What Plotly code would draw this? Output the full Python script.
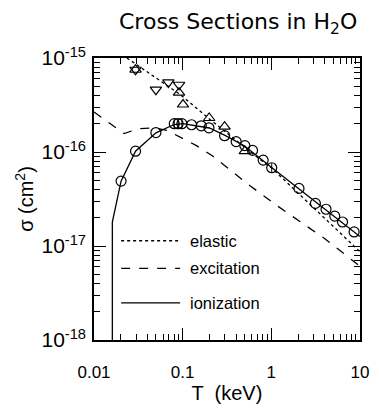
import plotly.graph_objects as go

# ---- data ----
ion_curve_T = [0.0161, 0.0161, 0.0202, 0.0294, 0.05, 0.08, 0.1, 0.15, 0.2, 0.3, 0.5, 1.0, 2.0, 5.0, 10.0]
ion_curve_s = [1e-18, 1.8e-17, 4.9e-17, 1.02e-16, 1.6e-16, 1.96e-16, 2.0e-16, 1.9e-16, 1.8e-16, 1.5e-16,
               1.16e-16, 6.9e-17, 4.1e-17, 2.1e-17, 1.26e-17]

ion_T = [0.0202, 0.0294, 0.0499, 0.0804, 0.0888, 0.098, 0.126, 0.162, 0.198, 0.297, 0.401, 0.503,
         0.614, 0.809, 1.01, 2.05, 3.14, 4.14, 5.19, 6.35, 8.58]
ion_s = [4.9e-17, 1.02e-16, 1.61e-16, 2.0e-16, 2.0e-16, 2.0e-16, 1.95e-16, 1.90e-16, 1.81e-16,
         1.49e-16, 1.29e-16, 1.17e-16, 1.04e-16, 8.2e-17, 6.8e-17, 4.1e-17, 2.84e-17, 2.46e-17,
         2.08e-17, 1.8e-17, 1.41e-17]
ion_err = [0, 0, 0, 2.5e-17, 2.5e-17, 2.5e-17, 0, 0, 0, 0, 0, 0, 0, 0, 8e-18, 0, 0, 0, 0, 0, 0]

el_curve_T = [0.0235, 0.0935, 0.2, 0.65, 1.0, 2.27, 8.0, 10.0]
el_curve_s = [1.0e-15, 4.1e-16, 2.25e-16, 9.2e-17, 6.8e-17, 3.3e-17, 1.06e-17, 8.7e-18]

ex_curve_T = [0.01, 0.0218, 0.0317, 0.0486, 0.0673, 0.143, 0.22, 0.57, 1.15, 4.04, 7.97, 10.0]
ex_curve_s = [2.66e-16, 1.57e-16, 1.77e-16, 1.81e-16, 1.69e-16, 1.17e-16, 9.0e-17, 4.4e-17,
              2.7e-17, 1.19e-17, 7.2e-18, 6.1e-18]

up_T = [0.0294, 0.091, 0.101, 0.199, 0.297, 0.503]
up_s = [7.5e-16, 4.28e-16, 3.2e-16, 2.3e-16, 1.86e-16, 1.02e-16]

dn_T = [0.0294, 0.0499, 0.069, 0.091]
dn_s = [7.5e-16, 4.6e-16, 5.5e-16, 5.19e-16]

x_tickvals = [0.01, 0.1, 1, 10]
x_ticktext = ["0.01", "0.1", "1", "10"]
y_tickvals = [1e-18, 1e-17, 1e-16, 1e-15]
y_ticktext = ["10<sup>-18</sup>", "10<sup>-17</sup>", "10<sup>-16</sup>", "10<sup>-15</sup>"]
legend_names = ["elastic", "excitation", "ionization"]
legend_dash = ["dot", "dash", "solid"]

FONT = "Liberation Sans"
TFONT = "DejaVu Sans"
LW = 1.3

fig = go.Figure()
fig.add_trace(go.Scatter(x=el_curve_T, y=el_curve_s, mode="lines",
                         line=dict(color="black", width=LW, dash="dot")))
fig.add_trace(go.Scatter(x=ex_curve_T, y=ex_curve_s, mode="lines",
                         line=dict(color="black", width=LW, dash="dash")))
fig.add_trace(go.Scatter(x=ion_curve_T, y=ion_curve_s, mode="lines",
                         line=dict(color="black", width=LW)))
fig.add_trace(go.Scatter(x=ion_T, y=ion_s, mode="markers",
                         marker=dict(symbol="circle-open", size=10, color="black", line=dict(width=1.2)),
                         error_y=dict(type="data", array=ion_err, color="black", thickness=1, width=0)))
fig.add_trace(go.Scatter(x=up_T, y=up_s, mode="markers",
                         marker=dict(symbol="triangle-up-open", size=10, color="black", line=dict(width=1.2))))
fig.add_trace(go.Scatter(x=dn_T, y=dn_s, mode="markers",
                         marker=dict(symbol="triangle-down-open", size=10, color="black", line=dict(width=1.2))))

x_minor = [k * d for d in (0.01, 0.1, 1) for k in range(2, 10)]
y_minor = [k * 10.0 ** e for e in (-18, -17, -16) for k in range(2, 10)]

axis_common = dict(showline=True, linecolor="black", linewidth=1.5, mirror="allticks",
                   ticks="inside", tickcolor="black", ticklen=12, tickwidth=1.2,
                   showgrid=False, zeroline=False)

fig.update_xaxes(type="log", range=[-2, 1], tickmode="array", tickvals=x_tickvals,
                 ticktext=x_ticktext, tickfont=dict(family=FONT, size=17, color="black"),
                 ticklabelstandoff=16,
                 minor=dict(tickmode="array", tickvals=x_minor, ticks="inside", ticklen=6,
                            tickcolor="black", tickwidth=1, showgrid=False),
                 title=dict(text="T  (keV)", font=dict(family=FONT, size=20, color="black"), standoff=2),
                 **axis_common)
fig.update_yaxes(type="log", range=[-18, -15], tickmode="array", tickvals=y_tickvals,
                 ticktext=y_ticktext, tickfont=dict(family=FONT, size=21, color="black"),
                 ticklabelstandoff=2,
                 minor=dict(tickmode="array", tickvals=y_minor, ticks="inside", ticklen=6,
                            tickcolor="black", tickwidth=1, showgrid=False),
                 title=dict(text="σ (cm<sup>2</sup>)", font=dict(family=FONT, size=20, color="black"), standoff=2),
                 **axis_common)

# legend drawn inside plot
leg_y = [0.352, 0.254, 0.132]
for name, dash, yy in zip(legend_names, legend_dash, leg_y):
    fig.add_shape(type="line", xref="paper", yref="paper", x0=0.102, x1=0.324, y0=yy, y1=yy,
                  line=dict(color="black", width=LW, dash=dash))
    fig.add_annotation(text=name, xref="paper", yref="paper", x=0.355, y=yy, xanchor="left",
                       yanchor="middle", showarrow=False,
                       font=dict(family=FONT, size=16.5, color="black"))

fig.add_annotation(text="Cross Sections in H<sub>2</sub>O", xref="paper", yref="paper",
                   x=0.995, y=1.065, xanchor="right", yanchor="bottom", showarrow=False,
                   font=dict(family=TFONT, size=22, color="black"))

fig.update_layout(width=379, height=408, margin=dict(l=94, r=10, t=58, b=63),
                  paper_bgcolor="white", plot_bgcolor="white", showlegend=False)

fig.write_html("out.html")
